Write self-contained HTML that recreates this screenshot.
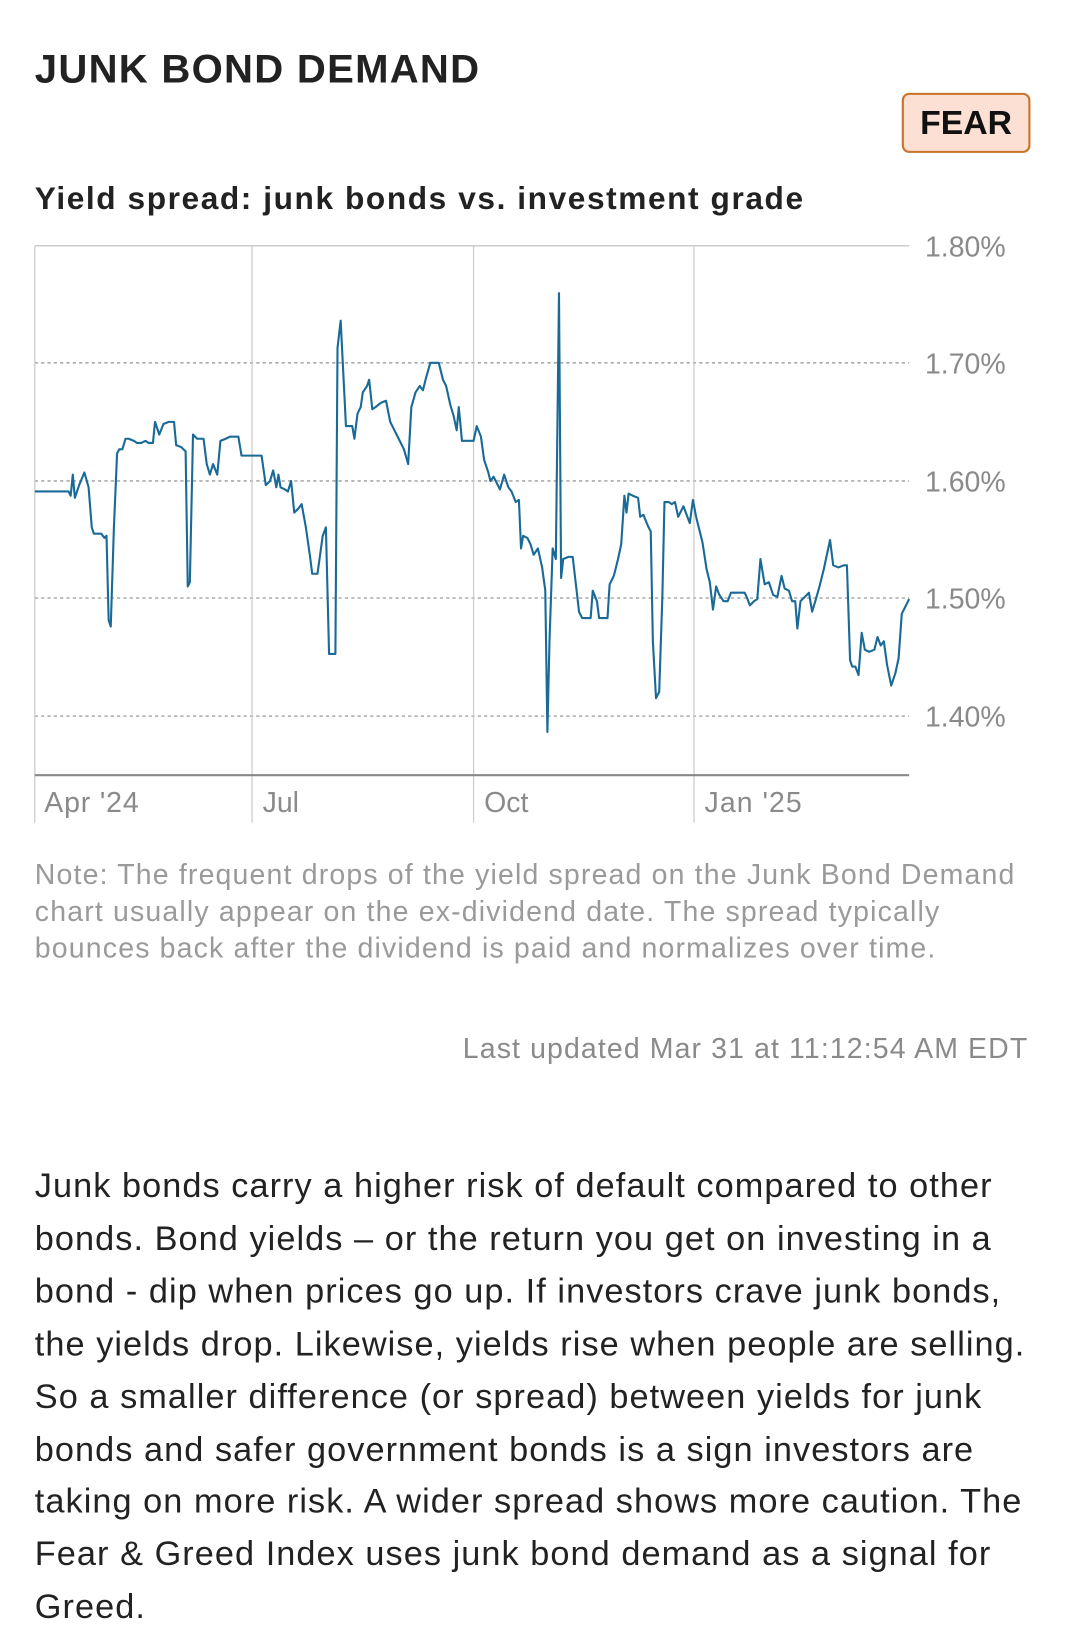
<!DOCTYPE html>
<html><head><meta charset="utf-8"><style>
html,body{margin:0;padding:0;background:#fff;}
body{width:1080px;height:1652px;overflow:hidden;}
#w{width:1024px;height:1566px;transform:scale(1.0547);transform-origin:0 0;position:relative;font-family:"Liberation Sans",sans-serif;color:#222;}
.t{position:absolute;left:33px;top:45px;font-size:38px;font-weight:bold;letter-spacing:1.2px;}
.fear{position:absolute;left:855px;top:88px;width:118px;height:53px;border:2px solid #c8742a;border-radius:7px;background:#fde0d4;font-weight:bold;font-size:32px;line-height:53px;text-align:center;color:#111;}
.st{position:absolute;left:33px;top:172px;font-size:30px;font-weight:bold;letter-spacing:1.5px;}
svg{position:absolute;left:0;top:0;}
.note{position:absolute;left:33px;top:812px;white-space:nowrap;font-size:27px;line-height:35px;color:#9a9a9a;letter-spacing:1.1px;}
.upd{position:absolute;right:49px;top:979px;font-size:27px;color:#8a8a8a;letter-spacing:1.05px;}
.p{position:absolute;left:33px;top:1100px;white-space:nowrap;font-size:32.5px;line-height:49.9px;color:#222;letter-spacing:1px;}
</style></head><body><div id="w">
<div class="t">JUNK BOND DEMAND</div>
<div class="fear">FEAR</div>
<div class="st">Yield spread: junk bonds vs. investment grade</div>
<svg width="1024" height="800" viewBox="0 0 1024 800">
<g stroke="#aaa" stroke-width="1.5" stroke-dasharray="3,3">
<line x1="33" x2="862" y1="233" y2="233" stroke-dasharray="none" stroke="#ccc"/>
<line x1="33" x2="862" y1="344" y2="344"/>
<line x1="33" x2="862" y1="456" y2="456"/>
<line x1="33" x2="862" y1="567" y2="567"/>
<line x1="33" x2="862" y1="679" y2="679"/>
</g>
<g stroke="#ccc" stroke-width="1.2">
<line x1="33" x2="33" y1="233" y2="780"/>
<line x1="239" x2="239" y1="233" y2="780"/>
<line x1="449" x2="449" y1="233" y2="780"/>
<line x1="658" x2="658" y1="233" y2="780"/>
</g>
<line x1="33" x2="862" y1="735" y2="735" stroke="#888" stroke-width="2"/>
<g font-size="27" fill="#8a8a8a" font-family="Liberation Sans,sans-serif">
<text x="877" y="243">1.80%</text><text x="877" y="354">1.70%</text><text x="877" y="466">1.60%</text><text x="877" y="577">1.50%</text><text x="877" y="689">1.40%</text>
<text x="42" y="770" letter-spacing="0.8">Apr '24</text><text x="249" y="770">Jul</text><text x="459" y="770">Oct</text><text x="668" y="770" letter-spacing="1">Jan '25</text>
</g>
<polyline fill="none" stroke="#1a6a98" stroke-width="2" stroke-linejoin="round" points="33,466 65,466 67,470 69,450 71,472 75,460 80,448 84,462 87,500 89,506 93,506 96,506 99,510 101,508 103,588 105,594 108,500 111,430 113,426 116,426 119,416 122,416 127,418 130,420 134,420 138,418 141,420 145,420 147,400 151,412 155,402 160,400 165,400 167,422 172,424 176,428 178,556 180,552 183,412 187,416 193,416 196,440 199,450 202,440 206,450 209,418 214,416 218,414 223,414 226,414 229,432 233,432 240,432 248,432 252,460 256,456 259,446 262,462 264,450 266,462 270,464 273,466 276,456 279,486 283,482 286,478 290,500 294,528 296,544 301,544 306,508 309,500 312,620 314,620 318,620 320,330 323,304 326,364 328,404 331,404 334,404 336,416 339,392 342,386 344,372 348,366 350,360 353,388 356,386 361,382 366,380 370,400 374,408 378,416 383,426 387,440 390,386 394,372 398,366 401,370 404,358 408,344 413,344 416,344 420,360 423,366 427,384 430,394 433,408 435,386 438,418 444,418 449,418 452,404 456,414 459,436 463,448 465,456 468,452 471,458 474,464 478,450 482,462 485,466 489,476 492,474 494,520 496,508 500,510 503,516 506,526 510,520 514,538 517,560 519,694 521,608 524,520 527,530 530,278 532,548 534,530 539,528 543,528 546,554 549,580 552,586 556,586 560,586 562,560 566,570 568,586 571,586 576,586 578,554 582,546 586,530 589,516 592,470 594,486 596,468 600,470 605,472 607,490 610,488 614,498 617,504 619,608 622,662 625,656 628,566 630,476 634,476 637,478 640,476 643,490 648,480 651,488 654,496 657,474 660,490 663,502 666,514 670,540 673,552 676,578 679,556 682,564 686,570 690,570 693,562 697,562 701,562 706,562 708,566 711,574 715,570 718,568 721,530 725,554 729,552 733,564 737,566 741,546 744,558 748,560 751,570 754,570 756,596 759,570 763,566 767,562 770,580 773,570 777,556 781,540 784,526 787,512 790,536 795,538 800,536 803,536 806,626 808,632 811,632 814,640 817,600 820,616 824,618 829,616 832,604 835,612 838,608 841,630 845,650 849,638 852,624 855,582 858,576 862,568"/>
</svg>
<div class="note">Note: The frequent drops of the yield spread on the Junk Bond Demand<br>chart usually appear on the ex-dividend date. The spread typically<br>bounces back after the dividend is paid and normalizes over time.</div>
<div class="upd">Last updated Mar 31 at 11:12:54 AM EDT</div>
<div class="p">Junk bonds carry a higher risk of default compared to other<br>bonds. Bond yields – or the return you get on investing in a<br>bond - dip when prices go up. If investors crave junk bonds,<br>the yields drop. Likewise, yields rise when people are selling.<br>So a smaller difference (or spread) between yields for junk<br>bonds and safer government bonds is a sign investors are<br>taking on more risk. A wider spread shows more caution. The<br>Fear &amp; Greed Index uses junk bond demand as a signal for<br>Greed.</div>
</div></body></html>
